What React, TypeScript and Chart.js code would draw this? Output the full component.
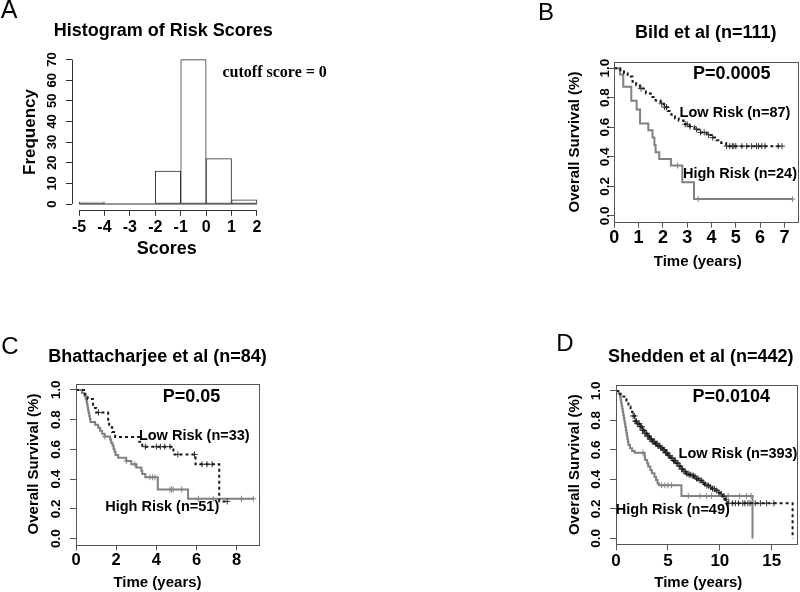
import React, { useEffect, useRef } from 'react';
import { Chart, registerables } from 'chart.js';

Chart.register(...registerables);

const SANS = '"Liberation Sans", Arial, Helvetica, sans-serif';
const SERIF = '"Liberation Serif", "Times New Roman", serif';

// ---------------- Panel A: histogram ----------------
const histBinEdges = [-5, -4, -3, -2, -1, 0, 1, 2];
const histCounts = [1, 0, 0, 16, 70, 22, 2];
const histXTicks = [-5, -4, -3, -2, -1, 0, 1, 2];
const histYTicks = [0, 10, 20, 30, 40, 50, 60, 70];

// ---------------- shared survival ticks ----------------
const survTicks = [0, 0.2, 0.4, 0.6, 0.8, 1.0];

// ---------------- Panel B: Bild et al ----------------
const bildXTicks = [0, 1, 2, 3, 4, 5, 6, 7];
const bildLowSteps = [
  [0, 1], [0.25, 0.977], [0.4, 0.966], [0.55, 0.943], [0.75, 0.908], [0.9, 0.885],
  [1.05, 0.862], [1.3, 0.828], [1.5, 0.805], [1.7, 0.782], [1.9, 0.759], [2.05, 0.736],
  [2.2, 0.71], [2.35, 0.684], [2.5, 0.66], [2.65, 0.646], [2.85, 0.62], [3.1, 0.605],
  [3.3, 0.585], [3.5, 0.565], [3.8, 0.548], [4.0, 0.53], [4.2, 0.512], [4.4, 0.494],
  [4.6, 0.472], [6.9, 0.472],
];
const bildLowCensor = [1.1, 1.95, 2.07, 2.15, 2.92, 3.0, 3.12, 3.38, 3.55, 3.7, 3.88, 4.05,
  4.62, 4.75, 4.86, 4.92, 5.0, 5.25, 5.45, 5.65, 5.85, 5.93, 6.07, 6.2, 6.75, 6.9];
const bildHighSteps = [
  [0, 1], [0.23, 0.958], [0.37, 0.875], [0.7, 0.78], [0.92, 0.72], [1.06, 0.625],
  [1.4, 0.58], [1.57, 0.53], [1.65, 0.48], [1.7, 0.43], [1.85, 0.385], [2.33, 0.34],
  [2.8, 0.227], [3.28, 0.113], [7.33, 0.113],
];
const bildHighCensor = [2.6, 3.45, 7.33];

// ---------------- Panel C: Bhattacharjee et al ----------------
const bhatXTicks = [0, 2, 4, 6, 8];
const bhatLowSteps = [
  [0, 1], [0.45, 0.97], [0.58, 0.939], [0.85, 0.879], [1.0, 0.848], [1.6, 0.782],
  [1.65, 0.749], [1.8, 0.717], [1.95, 0.684], [3.15, 0.651], [3.3, 0.618], [4.85, 0.566],
  [5.95, 0.5], [7.13, 0.25], [7.55, 0.25],
];
const bhatLowCensor = [1.12, 3.45, 4.0, 4.2, 4.42, 4.68, 5.07, 5.9, 6.27, 6.52, 6.78, 7.53];
const bhatHighSteps = [
  [0, 1], [0.3, 0.98], [0.42, 0.961], [0.48, 0.941], [0.52, 0.922], [0.55, 0.902],
  [0.58, 0.882], [0.6, 0.863], [0.63, 0.843], [0.66, 0.824], [0.69, 0.804], [0.72, 0.784],
  [0.95, 0.765], [1.1, 0.745], [1.2, 0.725], [1.3, 0.706], [1.42, 0.686], [1.7, 0.666],
  [1.75, 0.645], [1.82, 0.625], [1.87, 0.604], [1.92, 0.584], [1.97, 0.563], [2.1, 0.543],
  [2.5, 0.522], [2.75, 0.5], [3.0, 0.478], [3.25, 0.456], [3.3, 0.434], [3.45, 0.412],
  [4.07, 0.33], [5.58, 0.268], [8.83, 0.268],
];
const bhatHighCensor = [1.44, 2.52, 2.93, 3.68, 3.81, 3.93, 4.68, 4.76, 4.84, 5.26, 6.09, 6.83, 8.24, 8.83];

// ---------------- Panel D: Shedden et al ----------------
const shedXTicks = [0, 5, 10, 15];
const shedLowSteps = [
  [0, 1], [0.2, 0.992], [0.4, 0.978], [0.6, 0.962], [0.8, 0.943], [1.0, 0.922],
  [1.2, 0.895], [1.4, 0.858], [1.6, 0.83], [1.8, 0.795], [2.0, 0.778], [2.25, 0.758],
  [2.5, 0.732], [2.75, 0.712], [3.0, 0.693], [3.25, 0.673], [3.5, 0.656], [3.75, 0.642],
  [4.0, 0.628], [4.25, 0.614], [4.5, 0.6], [4.75, 0.58], [5.0, 0.562], [5.25, 0.545],
  [5.5, 0.527], [5.75, 0.51], [6.0, 0.49], [6.25, 0.47], [6.5, 0.452], [6.75, 0.44],
  [7.0, 0.432], [7.25, 0.425], [7.5, 0.418], [7.75, 0.405], [8.0, 0.393], [8.25, 0.38],
  [8.5, 0.368], [8.75, 0.358], [9.0, 0.347], [9.25, 0.337], [9.5, 0.325], [9.75, 0.312],
  [10.0, 0.3], [10.25, 0.285], [10.5, 0.262], [10.75, 0.238], [17.0, 0],
];
const shedLowCensor = [1.65, 1.78, 1.86, 1.97, 2.05, 2.12, 2.24, 2.31, 2.38, 2.47, 2.55, 2.61,
  2.7, 2.76, 2.88, 2.95, 3.02, 3.11, 3.18, 3.27, 3.35, 3.41, 3.5, 3.58, 3.66, 3.72, 3.81, 3.9,
  3.97, 4.05, 4.14, 4.22, 4.3, 4.41, 4.52, 4.6, 4.68, 4.77, 4.85, 4.93, 5.04, 5.12, 5.2, 5.31,
  5.42, 5.55, 5.63, 5.74, 5.86, 5.95, 6.08, 6.17, 6.3, 6.41, 6.55, 6.68, 6.8, 6.93, 7.05, 7.2,
  7.34, 7.48, 7.62, 7.75, 7.9, 8.08, 8.22, 8.4, 8.57, 8.75, 8.9, 9.1, 9.3, 9.48, 9.7, 9.9,
  10.15, 10.4, 10.62, 10.85, 11.2, 11.5, 11.8, 12.2, 12.4, 12.7, 12.9, 13.4, 13.9, 14.5, 15.2];
const shedHighSteps = [
  [0, 1], [0.25, 0.98], [0.4, 0.959], [0.45, 0.939], [0.5, 0.918], [0.55, 0.898],
  [0.6, 0.878], [0.65, 0.857], [0.7, 0.837], [0.75, 0.816], [0.8, 0.796], [0.85, 0.776],
  [0.9, 0.755], [0.95, 0.735], [1.0, 0.714], [1.05, 0.694], [1.1, 0.673], [1.15, 0.653],
  [1.2, 0.633], [1.35, 0.612], [1.55, 0.592], [1.8, 0.58], [2.75, 0.556], [2.8, 0.532],
  [3.0, 0.51], [3.1, 0.487], [3.3, 0.464], [3.45, 0.441], [3.7, 0.418], [3.85, 0.396],
  [4.0, 0.373], [4.15, 0.36], [6.3, 0.288], [13.14, 0],
];
const shedHighCensor = [2.6, 4.4, 4.7, 5.0, 5.35, 6.96, 8.08, 8.7, 9.2, 10.3, 10.8, 11.9, 12.56, 13.0];

// ---------------- layout / styling (not data) ----------------
const W = 800;
const H = 592;
const TL = 6;
const XAXIS_H = 40;
const FRAME = '#555';
const LOW_COLOR = '#1a1a1a';
const HIGH_COLOR = '#808080';

type Txt = { t: string; x: number; y: number; size: number; bold?: boolean; rotate?: boolean; family?: string; align?: CanvasTextAlign };

const toXY = (steps: number[][]) => steps.map(([x, y]) => ({ x, y }));
const survAt = (steps: number[][], t: number) => {
  let s = steps[0][1];
  for (const [ti, si] of steps) {
    if (ti <= t) s = si;
    else break;
  }
  return s;
};
const censorXY = (steps: number[][], times: number[]) => times.map((t) => ({ x: t, y: survAt(steps, t) }));

function makeDecor(L: any) {
  return {
    id: 'rdecor',
    afterDraw(chart: any) {
      const ctx = chart.ctx;
      const xs = chart.scales.x;
      const ys = chart.scales.y;
      const ca = chart.chartArea;
      ctx.save();
      ctx.strokeStyle = L.frameColor;
      ctx.lineWidth = 1;
      ctx.setLineDash([]);
      if (L.box) {
        const l = Math.round(ca.left) + 0.5;
        const t = Math.round(ca.top) + 0.5;
        const r = Math.round(ca.right) - 0.5;
        const b = Math.round(ca.bottom) + 0.5;
        ctx.strokeRect(l, t, r - l, b - t);
      }
      if (L.axisLines) {
        const xt = xs.ticks;
        const yt = ys.ticks;
        const yb = Math.round(ca.bottom) + 0.5;
        const xl = Math.round(ca.left) + 0.5;
        ctx.beginPath();
        ctx.moveTo(xs.getPixelForValue(xt[0].value), yb);
        ctx.lineTo(xs.getPixelForValue(xt[xt.length - 1].value), yb);
        ctx.moveTo(xl, ys.getPixelForValue(yt[0].value));
        ctx.lineTo(xl, ys.getPixelForValue(yt[yt.length - 1].value));
        ctx.stroke();
      }
      ctx.fillStyle = '#000';
      ctx.textAlign = 'center';
      ctx.textBaseline = 'middle';
      ctx.font = `bold ${L.yLabelSize}px ${SANS}`;
      for (const tk of ys.ticks) {
        const py = ys.getPixelForValue(tk.value);
        ctx.save();
        ctx.translate(L.yLabelX, py);
        ctx.rotate(-Math.PI / 2);
        ctx.fillText(Number(tk.value).toFixed(L.yDecimals), 0, 0);
        ctx.restore();
      }
      for (const tx of L.texts as Txt[]) {
        ctx.save();
        ctx.font = `${tx.bold ? 'bold ' : ''}${tx.size}px ${tx.family || SANS}`;
        ctx.textAlign = tx.align || 'center';
        ctx.textBaseline = 'middle';
        ctx.translate(tx.x, tx.y);
        if (tx.rotate) ctx.rotate(-Math.PI / 2);
        ctx.fillText(tx.t, 0, 0);
        ctx.restore();
      }
      ctx.restore();
    },
  };
}

function scalesFor(L: any, xTicks: number[], yTicks: number[]) {
  const grid = { display: true, drawOnChartArea: false, drawTicks: true, tickLength: TL, color: L.frameColor, lineWidth: 1, offset: false };
  return {
    x: {
      type: 'linear',
      min: L.xRange[0],
      max: L.xRange[1],
      offset: false,
      grid,
      border: { display: false },
      afterBuildTicks: (s: any) => { s.ticks = xTicks.map((v) => ({ value: v })); },
      afterFit: (s: any) => { s.height = XAXIS_H; },
      ticks: {
        autoSkip: false,
        maxRotation: 0,
        minRotation: 0,
        color: '#000',
        padding: L.xLabelCenterY - L.area.bottom - TL - L.xLabelSize / 2,
        font: { family: SANS, size: L.xLabelSize, weight: 'bold', lineHeight: 1 },
        callback: (v: any) => String(v),
      },
    },
    y: {
      type: 'linear',
      min: L.yRange[0],
      max: L.yRange[1],
      offset: false,
      grid,
      border: { display: false },
      afterBuildTicks: (s: any) => { s.ticks = yTicks.map((v) => ({ value: v })); },
      afterFit: (s: any) => { s.width = TL; },
      ticks: { display: false },
    },
  };
}

function baseOptions(L: any, xTicks: number[], yTicks: number[]) {
  return {
    responsive: false,
    animation: false,
    events: [],
    layout: {
      autoPadding: false,
      padding: {
        left: L.area.left - TL,
        right: W - L.area.right,
        top: L.area.top,
        bottom: H - L.area.bottom - XAXIS_H,
      },
    },
    plugins: { legend: { display: false }, tooltip: { enabled: false }, title: { display: false } },
    scales: scalesFor(L, xTicks, yTicks),
  };
}

// ----- panel layouts -----
const layoutA = {
  area: { left: 71.9, right: 264.1, top: 53.8, bottom: 209.8 },
  xRange: [-5.28, 2.28], yRange: [-2.8, 72.8],
  xLabelSize: 16, xLabelCenterY: 228,
  yLabelX: 52, yLabelSize: 13, yDecimals: 0,
  frameColor: '#333', box: false, axisLines: true,
  texts: [
    { t: 'A', x: 9, y: 11, size: 25 },
    { t: 'Histogram of Risk Scores', x: 163.3, y: 31.5, size: 18, bold: true },
    { t: 'cutoff score = 0', x: 222.5, y: 72.5, size: 16, bold: true, family: SERIF, align: 'left' },
    { t: 'Frequency', x: 30, y: 132, size: 17, bold: true, rotate: true },
    { t: 'Scores', x: 166.7, y: 249.5, size: 18, bold: true },
  ],
};

const layoutB = {
  area: { left: 614.3, right: 799, top: 62.3, bottom: 221.7 },
  xRange: [0, 7.6], yRange: [-0.04, 1.04],
  xLabelSize: 18, xLabelCenterY: 237.7,
  yLabelX: 605.5, yLabelSize: 13.5, yDecimals: 1,
  frameColor: FRAME, box: true, axisLines: false,
  texts: [
    { t: 'B', x: 546, y: 13, size: 24 },
    { t: 'Bild et al (n=111)', x: 705.7, y: 33, size: 18, bold: true },
    { t: 'P=0.0005', x: 731.7, y: 74, size: 18, bold: true },
    { t: 'Low Risk (n=87)', x: 735, y: 113.3, size: 14.5, bold: true },
    { t: 'High Risk (n=24)', x: 740, y: 174, size: 14.5, bold: true },
    { t: 'Overall Survival (%)', x: 575, y: 142, size: 15, bold: true, rotate: true },
    { t: 'Time (years)', x: 697.8, y: 261.7, size: 15, bold: true },
  ],
};

const layoutC = {
  area: { left: 76, right: 260, top: 384, bottom: 544.5 },
  xRange: [0, 9.16], yRange: [-0.04, 1.04],
  xLabelSize: 16.5, xLabelCenterY: 560,
  yLabelX: 56, yLabelSize: 13.5, yDecimals: 1,
  frameColor: FRAME, box: true, axisLines: false,
  texts: [
    { t: 'C', x: 10, y: 347, size: 24 },
    { t: 'Bhattacharjee et al (n=84)', x: 157.5, y: 356.7, size: 18, bold: true },
    { t: 'P=0.05', x: 191.5, y: 396.7, size: 18, bold: true },
    { t: 'Low Risk (n=33)', x: 194.3, y: 436, size: 14.5, bold: true },
    { t: 'High Risk (n=51)', x: 162.2, y: 506.7, size: 14.5, bold: true },
    { t: 'Overall Survival (%)', x: 34, y: 464, size: 15, bold: true, rotate: true },
    { t: 'Time (years)', x: 157.5, y: 583.3, size: 15, bold: true },
  ],
};

const layoutD = {
  area: { left: 616, right: 798.3, top: 385, bottom: 544.3 },
  xRange: [0, 17.55], yRange: [-0.04, 1.04],
  xLabelSize: 17, xLabelCenterY: 561,
  yLabelX: 596.5, yLabelSize: 13.5, yDecimals: 1,
  frameColor: FRAME, box: true, axisLines: false,
  texts: [
    { t: 'D', x: 565, y: 344, size: 24 },
    { t: 'Shedden et al (n=442)', x: 700.8, y: 357.3, size: 18, bold: true },
    { t: 'P=0.0104', x: 731.3, y: 396.7, size: 18, bold: true },
    { t: 'Low Risk (n=393)', x: 738, y: 454, size: 14.5, bold: true },
    { t: 'High Risk (n=49)', x: 672.8, y: 510, size: 14.5, bold: true },
    { t: 'Overall Survival (%)', x: 575, y: 464.6, size: 15, bold: true, rotate: true },
    { t: 'Time (years)', x: 698.3, y: 583.3, size: 15, bold: true },
  ],
};

function histConfig() {
  const last = histBinEdges.length - 1;
  return {
    type: 'bar',
    data: {
      datasets: [
        {
          type: 'bar',
          data: histCounts.map((c, i) => ({ x: (histBinEdges[i] + histBinEdges[i + 1]) / 2, y: c })),
          backgroundColor: '#ffffff',
          borderColor: '#333',
          borderWidth: 1,
          borderSkipped: false,
          barPercentage: 1,
          categoryPercentage: 1,
        },
        {
          type: 'line',
          data: [{ x: histBinEdges[0], y: 0 }, { x: histBinEdges[last], y: 0 }],
          borderColor: '#333',
          borderWidth: 1,
          pointRadius: 0,
        },
      ],
    },
    options: baseOptions(layoutA, histXTicks, histYTicks),
    plugins: [makeDecor(layoutA)],
  };
}

function kmConfig(L: any, xTicks: number[], lowSteps: number[][], lowCensor: number[], highSteps: number[][], highCensor: number[]) {
  return {
    type: 'line',
    data: {
      datasets: [
        {
          data: toXY(lowSteps),
          stepped: true,
          borderColor: LOW_COLOR,
          borderWidth: 2,
          borderDash: [3, 3],
          pointRadius: 0,
          fill: false,
        },
        {
          data: censorXY(lowSteps, lowCensor),
          showLine: false,
          pointStyle: 'cross',
          pointRadius: 3,
          pointBorderWidth: 1,
          pointBorderColor: '#333',
          pointBackgroundColor: 'rgba(0,0,0,0)',
        },
        {
          data: toXY(highSteps),
          stepped: true,
          borderColor: HIGH_COLOR,
          borderWidth: 2,
          pointRadius: 0,
          fill: false,
        },
        {
          data: censorXY(highSteps, highCensor),
          showLine: false,
          pointStyle: 'cross',
          pointRadius: 3,
          pointBorderWidth: 1,
          pointBorderColor: '#888',
          pointBackgroundColor: 'rgba(0,0,0,0)',
        },
      ],
    },
    options: baseOptions(L, xTicks, survTicks),
    plugins: [makeDecor(L)],
  };
}

function ChartCanvas({ make }: { make: () => any }) {
  const ref = useRef<HTMLCanvasElement | null>(null);
  useEffect(() => {
    const chart = new Chart(ref.current as HTMLCanvasElement, make());
    return () => chart.destroy();
  }, []);
  return <canvas ref={ref} width={W} height={H} style={{ position: 'absolute', left: 0, top: 0 }} />;
}

export default function App() {
  return (
    <div style={{ position: 'absolute', left: 0, top: 0, width: W, height: H, background: '#fff', overflow: 'hidden' }}>
      <ChartCanvas make={histConfig} />
      <ChartCanvas make={() => kmConfig(layoutB, bildXTicks, bildLowSteps, bildLowCensor, bildHighSteps, bildHighCensor)} />
      <ChartCanvas make={() => kmConfig(layoutC, bhatXTicks, bhatLowSteps, bhatLowCensor, bhatHighSteps, bhatHighCensor)} />
      <ChartCanvas make={() => kmConfig(layoutD, shedXTicks, shedLowSteps, shedLowCensor, shedHighSteps, shedHighCensor)} />
    </div>
  );
}
